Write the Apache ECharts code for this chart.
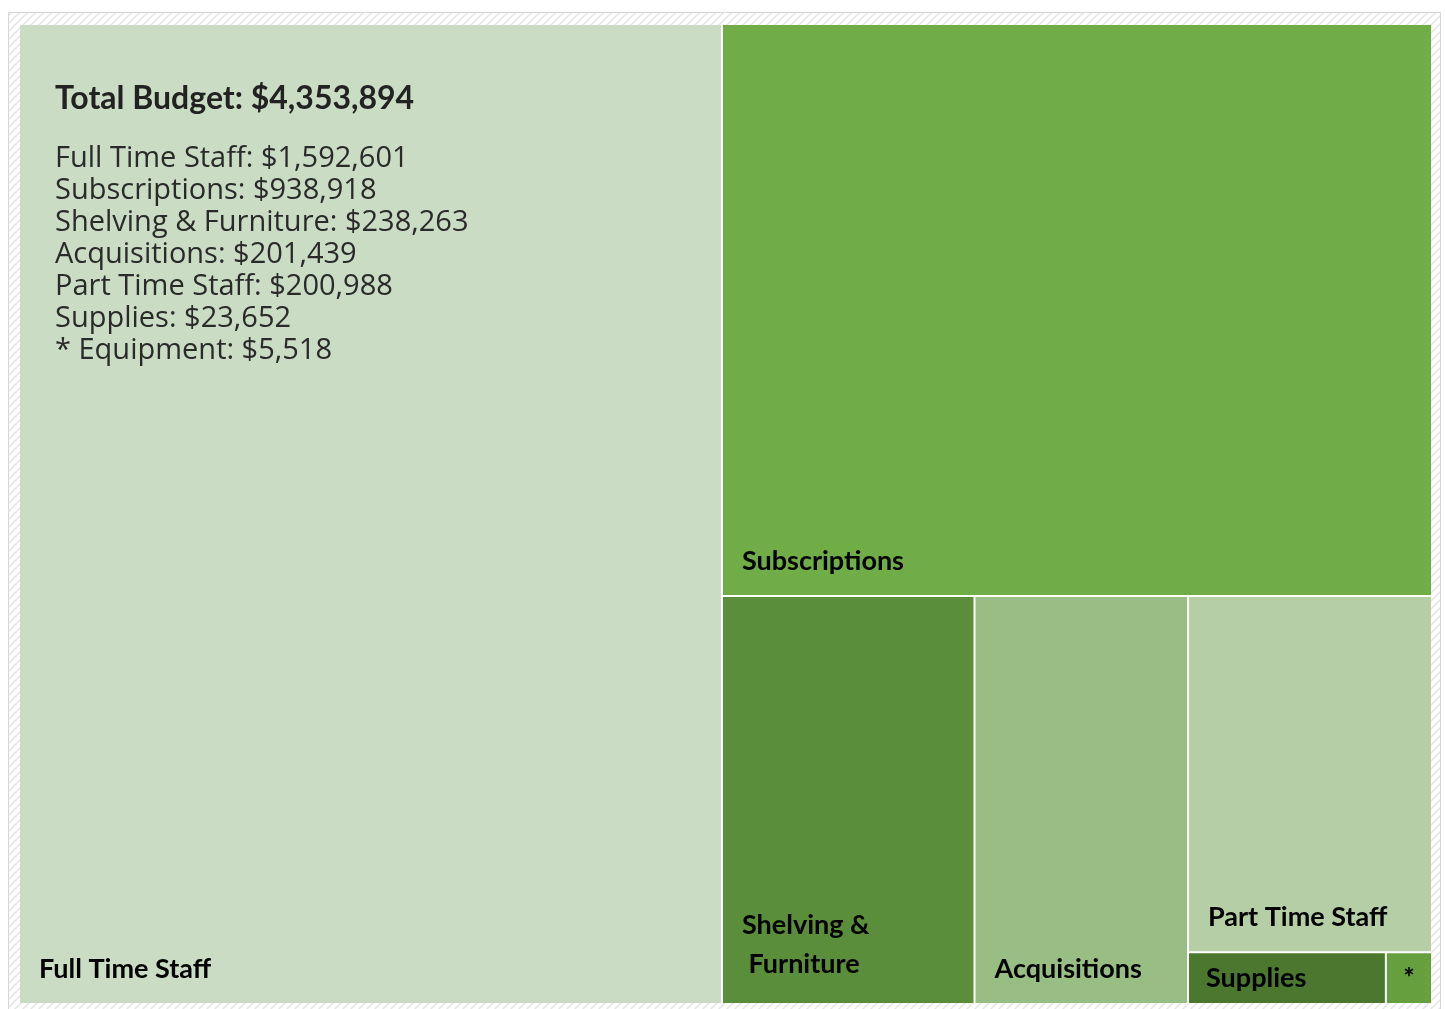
<!DOCTYPE html>
<html>
<head>
<meta charset="utf-8">
<script src="https://cdn.jsdelivr.net/npm/echarts@6/dist/echarts.min.js"></script>
<style>
    html, body { margin: 0; padding: 0; background: #fff; }
    #chartsdiv { width: 1445px; height: 1009px; }
</style>
</head>
<body>
<div id="chartsdiv"></div>
<script>
// 数据
var names = ['Full Time Staff', 'Subscriptions', 'Shelving & Furniture', 'Acquisitions', 'Part Time Staff', 'Supplies', '* Equipment'];
var tileLabels = ['Full Time Staff', 'Subscriptions', 'Shelving &\n Furniture', 'Acquisitions', 'Part Time Staff', 'Supplies', '*'];
var values = [1592601, 938918, 238263, 201439, 200988, 23652, 5518];
var totalBudget = 4353894;
var colors = ['#cadcc3', '#70ad47', '#5a8e3a', '#98be83', '#b5cea6', '#4b772e', '#66a03e'];

function money(v) {
    return '$' + v.toString().replace(/\B(?=(\d{3})+(?!\d))/g, ',');
}

// 斜线底纹
var hatch = document.createElement('canvas');
hatch.width = 8;
hatch.height = 8;
var ctx = hatch.getContext('2d');
ctx.fillStyle = '#ffffff';
ctx.fillRect(0, 0, 8, 8);
ctx.strokeStyle = '#e4e4e4';
ctx.lineWidth = 1.5;
ctx.beginPath();
ctx.moveTo(0, 8); ctx.lineTo(8, 0);
ctx.moveTo(-2, 2); ctx.lineTo(2, -2);
ctx.moveTo(6, 10); ctx.lineTo(10, 6);
ctx.stroke();

var myChart = echarts.init(document.getElementById('chartsdiv'));

var data = [];
names.forEach(function (name, i) {
    var item = {
        name: tileLabels[i],
        value: values[i],
        itemStyle: { color: colors[i] }
    };
    if (i === 2) {
        item.label = { lineHeight: 39 };
    }
    if (i === 5) {
        item.label = { position: 'insideLeft', distance: 12 };
    }
    if (i === 6) {
        item.label = { position: 'inside' };
    }
    data.push(item);
});

var listText = names.map(function (n, i) {
    return n + ': ' + money(values[i]);
}).join('\n');

var option = {
    animation: false,
    tooltip: { show: false },
    graphic: [
        {
            type: 'rect',
            z: -10,
            shape: { x: 8.5, y: 12.5, width: 1432, height: 1000 },
            style: { fill: { image: hatch, repeat: 'repeat' }, stroke: '#d8d8d8', lineWidth: 1 }
        },
        {
            type: 'text',
            z: 100,
            left: 55,
            top: 83,
            style: {
                text: 'Total Budget: ' + money(totalBudget),
                font: 'bold 32px Lato',
                fill: '#222'
            }
        },
        {
            type: 'text',
            z: 100,
            left: 55,
            top: 143,
            style: {
                text: listText,
                font: '29px "Open Sans"',
                lineHeight: 32,
                fill: '#2a2a2a'
            }
        }
    ],
    series: [{
        type: 'treemap',
        left: 20,
        top: 25,
        width: 1411,
        height: 978,
        squareRatio: 1,
        roam: false,
        nodeClick: false,
        breadcrumb: { show: false },
        itemStyle: {
            borderColor: '#fff',
            borderWidth: 0,
            gapWidth: 2
        },
        label: {
            show: true,
            position: 'insideBottomLeft',
            distance: 14,
            color: '#000',
            fontFamily: 'Lato',
            fontWeight: 'bold',
            fontSize: 27,
            lineHeight: 30
        },
        data: data
    }]
};

myChart.setOption(option);
</script>
</body>
</html>
